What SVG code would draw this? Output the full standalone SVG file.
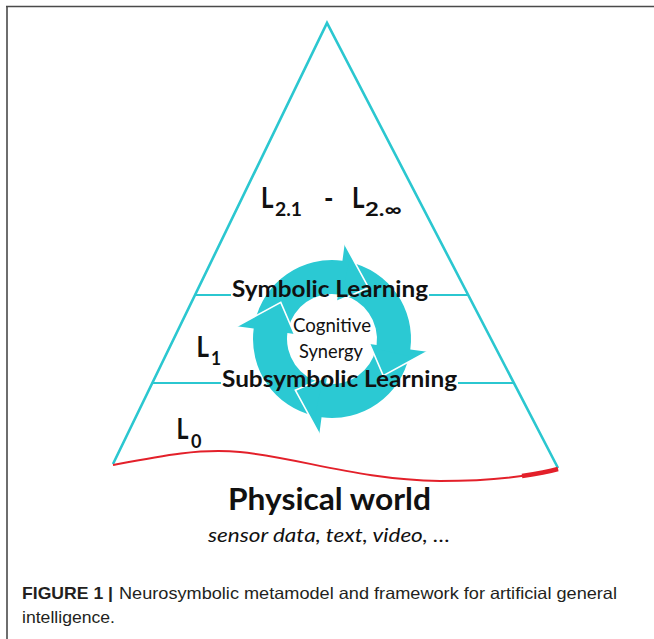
<svg xmlns="http://www.w3.org/2000/svg" width="654" height="639" viewBox="0 0 654 639">
<style>
.tri{fill:none;stroke:#2bc7d0;stroke-width:2.6;stroke-linejoin:miter}
.hl{stroke:#2bc7d0;stroke-width:2.2}
.ring{fill:#2bc9d3}
.edge{fill:none;stroke:#ffffff;stroke-width:1.6;stroke-linejoin:miter}
.lab{font-family:Lato,"Open Sans","Liberation Sans",sans-serif;fill:#111}
.b{font-weight:bold}
.L{font-family:Lato,"Open Sans","Liberation Sans",sans-serif;font-weight:bold;font-size:29px;fill:#111}
.sub{font-size:18px}
.cap{font-family:"Liberation Sans",Arial,sans-serif;font-size:16.5px;fill:#231f20}
</style>
<defs>
<path id="arr" d="M254.90,321.77 A79,79 0 0 1 342.45,260.70 L344.70,243.84 L368.67,287.77 L337.03,301.33 L337.95,294.40 A45,45 0 0 0 288.08,329.19 Z"/>
<path id="edg" d="M344.70,243.84 L368.67,287.77 L337.03,301.33"/>
</defs>
<g id="frame">
<line x1="6" y1="6.5" x2="654" y2="6.5" stroke="#4a4a4a" stroke-width="1.6"/>
<line x1="7" y1="6" x2="7" y2="639" stroke="#4a4a4a" stroke-width="1.6"/>
</g>
<g id="pyramid">
<polyline class="tri" points="113,464 327,23 558,468"/>
<line class="hl" x1="195" y1="295" x2="231" y2="295"/>
<line class="hl" x1="429" y1="295" x2="468" y2="295"/>
<line class="hl" x1="152" y1="383" x2="221" y2="383"/>
<line class="hl" x1="458" y1="383" x2="514" y2="383"/>
</g>
<g id="physical-boundary">
<path d="M113,465 C160,456 200,448 240,452 C300,458 360,480 440,481 C490,481 530,476 558,469" fill="none" stroke="#e3202a" stroke-width="2"/>
<path d="M522,476 C535,474 547,472 558,469" fill="none" stroke="#e3202a" stroke-width="4.5"/>
</g>
<g id="connectors">
<use href="#arr" class="ring"/>
<use href="#arr" class="ring" transform="rotate(90 332 339)"/>
<use href="#arr" class="ring" transform="rotate(180 332 339)"/>
<use href="#arr" class="ring" transform="rotate(270 332 339)"/>
<use href="#edg" class="edge"/>
<use href="#edg" class="edge" transform="rotate(90 332 339)"/>
<use href="#edg" class="edge" transform="rotate(180 332 339)"/>
<use href="#edg" class="edge" transform="rotate(270 332 339)"/>
</g>
<g id="level-L2">
<text class="L" x="261" y="208"><tspan textLength="12.5" lengthAdjust="spacingAndGlyphs">L</tspan><tspan class="sub" x="275" y="216" textLength="27" lengthAdjust="spacingAndGlyphs">2.1</tspan><tspan x="324" y="208" textLength="9.5" lengthAdjust="spacingAndGlyphs">-</tspan><tspan x="352" y="208" textLength="12.5" lengthAdjust="spacingAndGlyphs">L</tspan><tspan class="sub" x="365" y="216" textLength="37" lengthAdjust="spacingAndGlyphs">2.∞</tspan></text>
</g>
<g id="symbolic">
<text class="lab b" x="232" y="297" font-size="23" textLength="196" lengthAdjust="spacingAndGlyphs">Symbolic Learning</text>
</g>
<g id="cognitive-synergy">
<text class="lab" x="293" y="331.5" font-size="18.5" textLength="78" lengthAdjust="spacingAndGlyphs">Cognitive</text>
<text class="lab" x="299" y="357.5" font-size="18.5" textLength="64" lengthAdjust="spacingAndGlyphs">Synergy</text>
</g>
<g id="level-L1">
<text class="L" x="196.5" y="357"><tspan textLength="12.5" lengthAdjust="spacingAndGlyphs">L</tspan><tspan class="sub" x="211" y="365" textLength="10" lengthAdjust="spacingAndGlyphs">1</tspan></text>
</g>
<g id="subsymbolic">
<text class="lab b" x="222" y="387" font-size="23" textLength="235" lengthAdjust="spacingAndGlyphs">Subsymbolic Learning</text>
</g>
<g id="level-L0">
<text class="L" x="176.5" y="439"><tspan textLength="12" lengthAdjust="spacingAndGlyphs">L</tspan><tspan class="sub" x="191" y="448" textLength="10.5" lengthAdjust="spacingAndGlyphs">0</tspan></text>
</g>
<g id="physical-world">
<text class="lab b" x="228" y="510" font-size="30" textLength="203" lengthAdjust="spacingAndGlyphs">Physical world</text>
<text class="lab" x="208" y="542" font-size="18.5" font-style="italic" textLength="242" lengthAdjust="spacingAndGlyphs">sensor data, text, video, …</text>
</g>
<g id="caption">
<text class="cap" x="22" y="599"><tspan font-weight="bold" textLength="91" lengthAdjust="spacingAndGlyphs">FIGURE 1 |</tspan></text>
<text class="cap" x="119" y="599" textLength="498" lengthAdjust="spacingAndGlyphs">Neurosymbolic metamodel and framework for artificial general</text>
<text class="cap" x="22" y="623" textLength="93" lengthAdjust="spacingAndGlyphs">intelligence.</text>
</g>
</svg>
